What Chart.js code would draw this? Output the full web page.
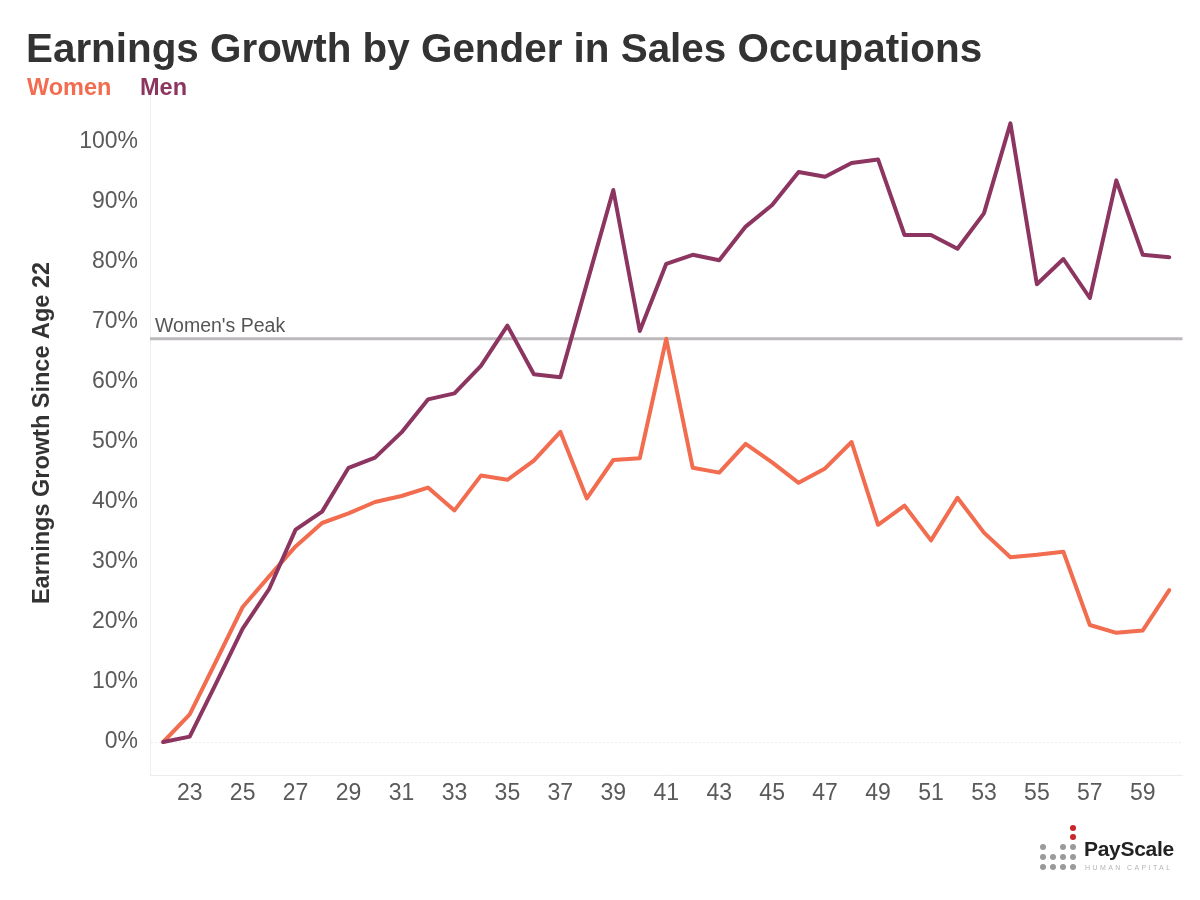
<!DOCTYPE html>
<html><head><meta charset="utf-8">
<script src="https://cdn.jsdelivr.net/npm/chart.js@4"></script>
<style>
html,body{margin:0;padding:0;background:#fff;}
#wrap{position:relative;width:1200px;height:900px;font-family:"Liberation Sans",Arial,sans-serif;overflow:hidden;}
#c{position:absolute;left:0;top:0;}
.t{position:absolute;white-space:nowrap;line-height:1;}
#title{left:26px;top:28px;font-size:40.4px;font-weight:bold;color:#333;}
#lw{left:27px;top:76px;font-size:23.5px;font-weight:bold;color:#f26c4f;}
#lm{left:140px;top:76px;font-size:23.5px;font-weight:bold;color:#8c3560;}
.dot{position:absolute;width:6px;height:6px;border-radius:50%;background:#9a9a9a;}
.red{background:#c8252c;}
#ps{left:1084px;top:838px;font-size:21px;font-weight:bold;color:#222;letter-spacing:-0.3px;}
#hc{left:1085px;top:864px;font-size:7px;color:#b5b5b5;letter-spacing:2.4px;}
</style></head>
<body>
<div id="wrap">
<canvas id="c" width="1200" height="900"></canvas>
<div class="t" id="title">Earnings Growth by Gender in Sales Occupations</div>
<div class="t" id="lw">Women</div>
<div class="t" id="lm">Men</div>
<div id="logo"></div>
<div class="t" id="ps">PayScale</div>
<div class="t" id="hc">HUMAN CAPITAL</div>
</div>
<script>
const ages = [22,23,24,25,26,27,28,29,30,31,32,33,34,35,36,37,38,39,40,41,42,43,44,45,46,47,48,49,50,51,52,53,54,55,56,57,58,59,60];
const women = [0,4.6,13.5,22.5,27.6,32.6,36.5,38.1,40.0,41.0,42.4,38.6,44.4,43.7,46.9,51.7,40.6,47.0,47.3,67.2,45.7,44.9,49.7,46.6,43.2,45.6,50.0,36.2,39.4,33.6,40.7,34.9,30.8,31.2,31.7,19.5,18.2,18.6,25.3];
const men = [0,0.9,9.8,18.9,25.5,35.4,38.4,45.7,47.4,51.6,57.1,58.1,62.7,69.4,61.3,60.8,76.4,92.0,68.5,79.7,81.2,80.3,85.9,89.5,95.0,94.2,96.5,97.1,84.5,84.5,82.2,88.1,103.1,76.3,80.5,74.0,93.6,81.2,80.8];
const xTicks = [23,25,27,29,31,33,35,37,39,41,43,45,47,49,51,53,55,57,59];
const yTicks = [0,10,20,30,40,50,60,70,80,90,100];
const peakLabel = "Women's Peak";

// logo dots (decoration)
(function(){
  const logo = document.getElementById('logo');
  const cols=[1040,1050,1060,1070], rows=[844,854,864];
  rows.forEach((y,ri)=>cols.forEach((x,ci)=>{
    if(ri===0 && ci===1) return;
    const d=document.createElement('div');d.className='dot';d.style.left=x+'px';d.style.top=y+'px';logo.appendChild(d);
  }));
  [825,834].forEach(y=>{const d=document.createElement('div');d.className='dot red';d.style.left='1070px';d.style.top=y+'px';logo.appendChild(d);});
})();

const FAM = '"Liberation Sans", Arial, sans-serif';
const peakVal = Math.max(...women);

const peakPlugin = {
  id:'peak',
  beforeDatasetsDraw(chart){
    const {ctx, chartArea:a, scales:{y}} = chart;
    const py = y.getPixelForValue(peakVal);
    ctx.save();
    ctx.strokeStyle = '#bdb8bd';
    ctx.lineWidth = 3;
    ctx.beginPath(); ctx.moveTo(a.left, py); ctx.lineTo(a.right, py); ctx.stroke();
    ctx.fillStyle = '#555';
    ctx.font = '19.5px ' + FAM;
    ctx.textBaseline = 'alphabetic';
    ctx.fillText(peakLabel, a.left + 5, py - 7);
    ctx.restore();
  }
};

new Chart(document.getElementById('c'), {
  type:'line',
  data:{
    datasets:[
      {label:'Men', data: ages.map((a,i)=>({x:a,y:men[i]})), borderColor:'#8c3560', borderWidth:4, pointRadius:0, tension:0, borderJoinStyle:'round', borderCapStyle:'round', fill:false},
      {label:'Women', data: ages.map((a,i)=>({x:a,y:women[i]})), borderColor:'#f26c4f', borderWidth:4, pointRadius:0, tension:0, borderJoinStyle:'round', borderCapStyle:'round', fill:false}
    ]
  },
  options:{
    responsive:false, animation:false, devicePixelRatio:1,
    layout:{padding:{left:0, top:91, right:17.5, bottom:0}},
    plugins:{legend:{display:false}, title:{display:false}, tooltip:{enabled:false}},
    scales:{
      x:{type:'linear', min:21.5, max:60.5,
        afterBuildTicks(s){ s.ticks = xTicks.map(v=>({value:v})); },
        afterFit(s){ s.height = 125; },
        grid:{display:false, drawTicks:false},
        border:{display:true, color:'#ececec', width:1},
        ticks:{padding:5, autoSkip:false, maxRotation:0, color:'#5a5a5a', font:{size:23, family:FAM}}
      },
      y:{min:-5.5, max:108.5,
        afterBuildTicks(s){ s.ticks = yTicks.map(v=>({value:v})); },
        afterFit(s){ s.width = 150; },
        grid:{drawTicks:false, color: c => (c.tick && c.tick.value===0) ? '#eeeeee' : 'rgba(0,0,0,0)'},
        border:{display:true, color:'#eeeeee', dash:[2,2]},
        ticks:{padding:12, color:'#5a5a5a', font:{size:23, family:FAM}, callback: v => v + '%'},
        title:{display:true, text:'Earnings Growth Since Age 22', color:'#333', font:{size:23.5, weight:'bold', family:FAM}, padding:{top:28, bottom:0}}
      }
    }
  },
  plugins:[peakPlugin]
});
</script>
</body></html>
